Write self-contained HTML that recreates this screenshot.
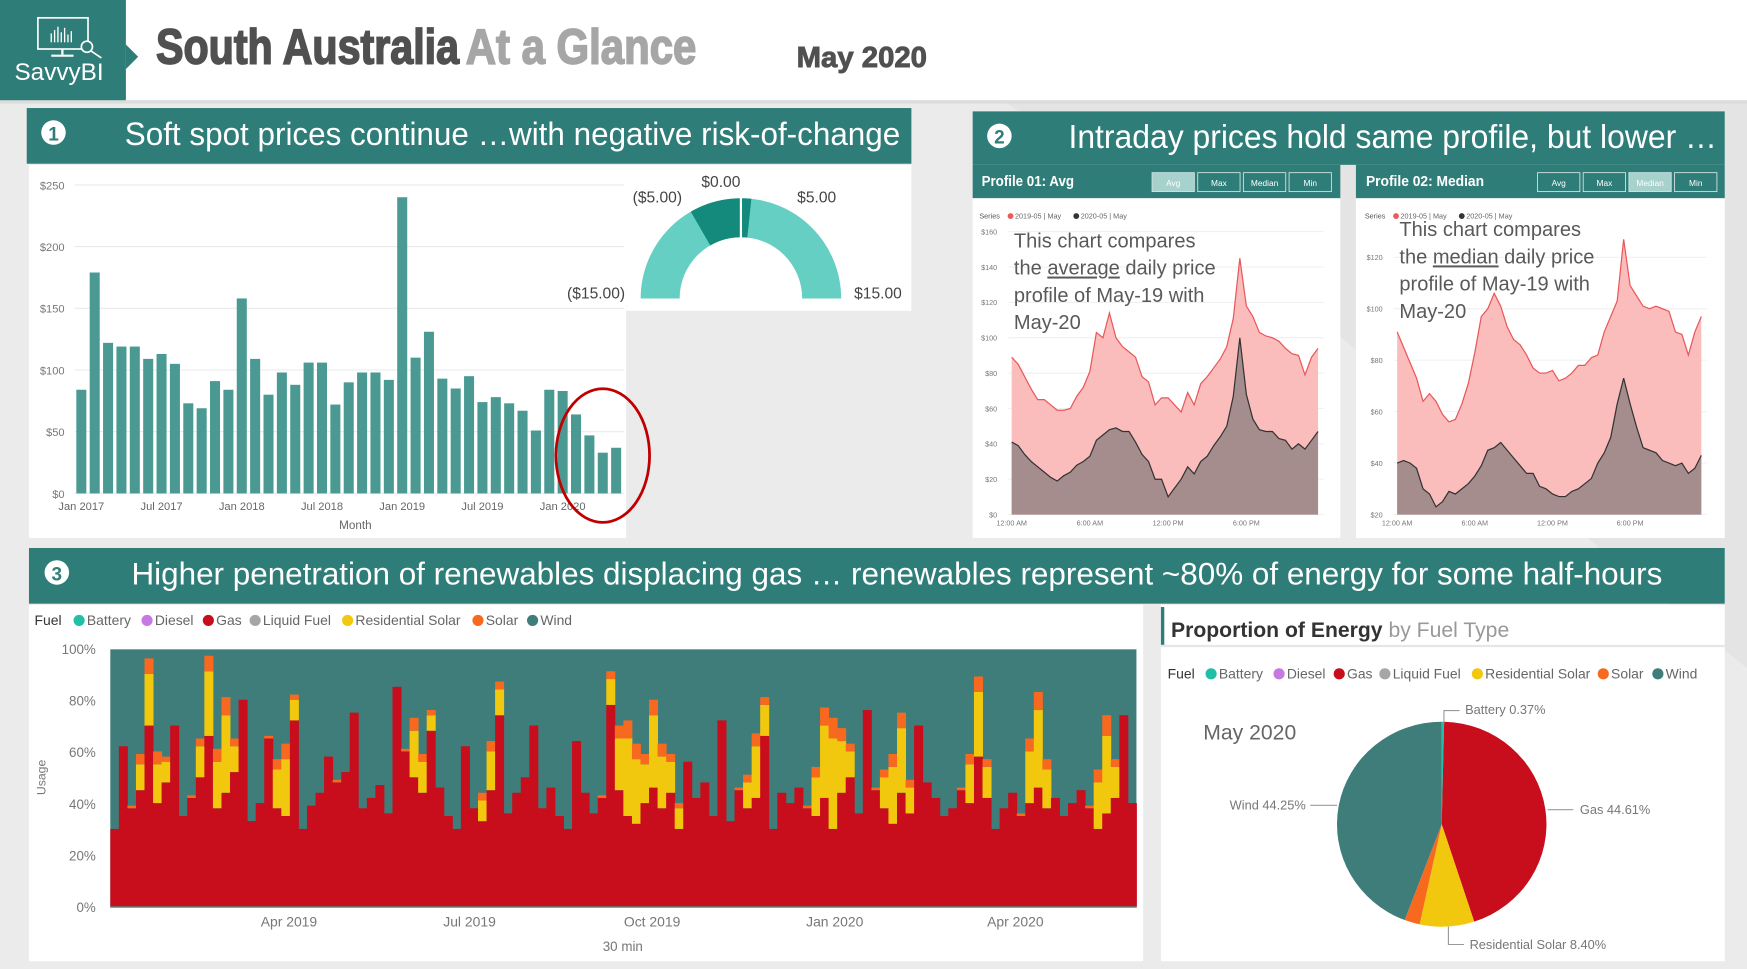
<!DOCTYPE html>
<html><head><meta charset="utf-8">
<style>
html,body{margin:0;padding:0;background:#ececec;overflow:hidden}
svg{display:block}
text{font-family:"Liberation Sans",sans-serif}
</style></head>
<body>
<svg id="root" width="1747" height="969" viewBox="0 0 1568 870" preserveAspectRatio="none">
<rect x="0" y="0" width="1568" height="870" fill="#ebebeb"/>
<polygon points="900,90 1568,90 1568,600 1200,300" fill="#e4e4e4"/>
<rect x="0" y="0" width="1568" height="90" fill="#ffffff"/>
<rect x="0" y="90" width="1568" height="3" fill="#dcdcdc"/>
<g>
<rect x="0" y="0" width="113" height="90" fill="#2f7d78"/>
<polygon points="113,40 124,51 113,62" fill="#2f7d78"/>
<rect x="34" y="16" width="45" height="28" fill="none" stroke="#fff" stroke-width="1.5"/>
<line x1="56" y1="44" x2="56" y2="49" stroke="#fff" stroke-width="2"/>
<line x1="46" y1="50" x2="66" y2="50" stroke="#fff" stroke-width="2"/>
<g stroke="#fff" stroke-width="1.2"><line x1="46" y1="38" x2="46" y2="30"/><line x1="49" y1="38" x2="49" y2="27"/><line x1="52" y1="38" x2="52" y2="24"/><line x1="55" y1="38" x2="55" y2="29"/><line x1="58" y1="38" x2="58" y2="25"/><line x1="61" y1="38" x2="61" y2="31"/><line x1="64" y1="38" x2="64" y2="28"/></g>
<circle cx="78" cy="42" r="5" fill="#2f7d78" stroke="#fff" stroke-width="1.5"/>
<line x1="82" y1="46" x2="91" y2="52" stroke="#fff" stroke-width="1.5"/>
<text x="53" y="72" fill="#fff" font-size="22" text-anchor="middle" textLength="80" lengthAdjust="spacingAndGlyphs">SavvyBI</text>
</g>
<text x="140" y="57" font-size="44" font-weight="bold" fill="#505050" stroke="#505050" stroke-width="1.5" textLength="272" lengthAdjust="spacingAndGlyphs">South Australia</text>
<text x="418" y="57" font-size="44" font-weight="bold" fill="#a6a6a6" stroke="#a6a6a6" stroke-width="1.5" textLength="207" lengthAdjust="spacingAndGlyphs">At a Glance</text>
<text x="715" y="60" font-size="26" font-weight="bold" fill="#505050" stroke="#505050" stroke-width="0.8" textLength="117" lengthAdjust="spacingAndGlyphs">May 2020</text>

<rect x="24" y="97" width="794" height="50" fill="#2f7d78"/>
<circle cx="48" cy="119" r="11" fill="#fff"/>
<text x="48" y="126" font-size="17" font-weight="bold" fill="#2f7d78" text-anchor="middle">1</text>
<text x="112" y="130" font-size="29" fill="#fff" textLength="696" lengthAdjust="spacingAndGlyphs">Soft spot prices continue …with negative risk-of-change</text>
<rect x="26" y="148" width="536" height="335" fill="#fff"/>
<rect x="562" y="148" width="256" height="131" fill="#fff"/>
<g id="barChart"></g>
<g id="gauge"></g>

<rect x="873" y="100" width="675" height="48" fill="#2f7d78"/>
<circle cx="897" cy="122" r="11" fill="#fff"/>
<text x="897" y="129" font-size="17" font-weight="bold" fill="#2f7d78" text-anchor="middle">2</text>
<text x="959" y="133" font-size="30" fill="#fff" textLength="582" lengthAdjust="spacingAndGlyphs">Intraday prices hold same profile, but lower …</text>
<rect x="873" y="148" width="330" height="30" fill="#2f7d78"/>
<rect x="1217" y="148" width="331" height="30" fill="#2f7d78"/>
<rect x="873" y="178" width="330" height="305" fill="#fff"/>
<rect x="1217" y="178" width="331" height="305" fill="#fff"/>
<text x="881" y="167" font-size="13" font-weight="bold" fill="#fff" textLength="83" lengthAdjust="spacingAndGlyphs">Profile 01: Avg</text>
<text x="1226" y="167" font-size="13" font-weight="bold" fill="#fff" textLength="106" lengthAdjust="spacingAndGlyphs">Profile 02: Median</text>
<g id="buttons"></g>
<g id="profile1"></g>
<g id="profile2"></g>

<rect x="26" y="492" width="1522" height="50" fill="#2f7d78"/>
<circle cx="51" cy="514" r="11" fill="#fff"/>
<text x="51" y="521" font-size="17" font-weight="bold" fill="#2f7d78" text-anchor="middle">3</text>
<text x="118" y="525" font-size="28" fill="#fff" textLength="1374" lengthAdjust="spacingAndGlyphs">Higher penetration of renewables displacing gas …   renewables represent ~80% of energy for some half-hours</text>
<rect x="26" y="543" width="1000" height="320" fill="#fff"/>
<rect x="1042" y="543" width="506" height="320" fill="#fff"/>
<g id="stack"></g>
<g id="pie"></g>
</svg>
<script>
const months = ["Jan 2017","Feb 2017","Mar 2017","Apr 2017","May 2017","Jun 2017","Jul 2017","Aug 2017","Sep 2017","Oct 2017","Nov 2017","Dec 2017","Jan 2018","Feb 2018","Mar 2018","Apr 2018","May 2018","Jun 2018","Jul 2018","Aug 2018","Sep 2018","Oct 2018","Nov 2018","Dec 2018","Jan 2019","Feb 2019","Mar 2019","Apr 2019","May 2019","Jun 2019","Jul 2019","Aug 2019","Sep 2019","Oct 2019","Nov 2019","Dec 2019","Jan 2020","Feb 2020","Mar 2020","Apr 2020","May 2020"];
const monthlyPrice = [84,179,122,119,119,109,113,105,73,69,91,84,158,109,80,98,88,106,106,72,90,98,98,92,240,110,131,93,85,95,74,78,73,67,51,84,83,64,47,33,37];
const priceTicks = [0,50,100,150,200,250];
const monthTickLabels = ["Jan 2017","Jul 2017","Jan 2018","Jul 2018","Jan 2019","Jul 2019","Jan 2020"];
const gaugeMin = -15, gaugeMax = 15, gaugeTarget = 0, gaugeValue = -5, gaugeValue2 = 1;
const hourLabels = ["12:00 AM","6:00 AM","12:00 PM","6:00 PM"];
const avg2019 = [89,85,78,71,65,65,62,59,59,60,67,72,81,103,100,114,100,95,92,89,78,75,62,66,66,62,58,69,62,74,78,83,88,95,111,145,118,112,103,101,100,98,94,91,90,79,89,94];
const avg2020 = [41,39,34,30,27,24,21,19,22,24,28,30,33,42,45,48,49,47,47,41,34,30,20,20,10,15,20,27,23,30,33,39,44,50,67,100,68,54,48,47,47,43,42,37,40,37,42,47];
const med2019 = [91,85,79,73,64,67,64,59,56,57,63,71,83,97,100,106,101,93,88,86,82,77,75,75,76,72,73,75,78,78,81,82,91,97,103,127,109,105,101,100,101,100,99,91,90,82,91,97];
const med2020 = [40,41,40,38,30,28,23,25,29,28,30,32,35,39,45,46,48,45,42,39,36,36,31,30,28,27,27,29,30,32,34,40,44,50,63,73,63,54,46,45,44,41,40,39,40,36,38,43];
const avgTicks = [0,20,40,60,80,100,120,140,160];
const medTicks = [20,40,60,80,100,120];
const mixTickLabels = ["Apr 2019","Jul 2019","Oct 2019","Jan 2020","Apr 2020"];
const pctTicks = [0,20,40,60,80,100];
const gasPct = [30,62,38,45,70,40,48,70,35,42,50,66,38,44,52,80,33,40,65,38,35,72,30,39,44,58,48,52,75,38,42,47,36,85,60,50,44,68,46,35,30,62,38,33,45,74,36,44,50,70,38,46,35,30,64,44,36,42,78,45,35,32,40,46,38,44,30,56,42,48,35,72,33,45,38,42,66,30,44,40,46,38,35,42,30,44,50,36,76,45,38,32,44,36,70,48,42,35,38,45,40,58,42,30,38,44,35,40,46,38,42,35,40,45,38,30,36,42,74,40];
const resSolarPct = [0,0,0,10,20,15,8,0,0,0,12,25,18,30,10,0,0,0,0,15,22,8,0,0,0,0,0,0,0,0,0,0,0,0,0,18,12,6,0,0,0,0,0,8,15,10,0,0,0,0,0,0,0,0,0,0,0,0,10,20,30,25,15,28,20,12,8,0,0,0,0,0,0,0,10,20,12,0,0,0,0,0,15,28,35,20,10,0,0,0,12,22,25,10,0,0,0,0,0,0,15,25,12,0,0,0,0,20,30,15,0,0,0,0,0,18,30,12,0,0];
const solarPct = [0,0,1,4,6,5,2,0,0,1,3,6,5,7,3,0,0,0,1,4,6,2,0,0,0,0,1,0,0,0,0,0,0,0,1,5,3,2,0,0,0,0,0,3,4,3,0,0,0,0,0,0,0,0,0,0,0,1,3,5,7,6,4,6,5,3,2,0,0,0,0,0,0,1,3,5,3,0,0,0,0,1,4,7,8,5,3,0,0,1,3,5,6,3,0,0,0,0,0,1,4,6,3,0,0,0,1,5,7,4,0,0,0,0,1,5,8,3,0,0];
const batteryPct = 0.5;
const pieFuels = ["Battery","Gas","Residential Solar","Solar","Wind"];
const pieShares = [0.37,44.61,8.40,2.37,44.25];
const fuelNames = ["Battery","Diesel","Gas","Liquid Fuel","Residential Solar","Solar","Wind"];

const NS = "http://www.w3.org/2000/svg";
const C = {battery:"#1fbfa8",diesel:"#c679e0",gas:"#c80d1c",liquid:"#a6a6a6",res:"#f2c80f",solar:"#f7691f",wind:"#3f7d7a"};
const fuelColors = [C.battery,C.diesel,C.gas,C.liquid,C.res,C.solar,C.wind];
function mk(tag, attrs, parent){const e=document.createElementNS(NS,tag);for(const k in attrs)e.setAttribute(k,attrs[k]);parent.appendChild(e);return e;}
function txt(parent,x,y,s,size,fill,anchor,extra){const t=mk("text",Object.assign({x:x,y:y,"font-size":size,fill:fill,"text-anchor":anchor||"start"},extra||{}),parent);t.textContent=s;return t;}

(function(){
  const g=document.getElementById("barChart");
  const yB=v=>443-v*1.108;
  const xB=i=>73+i*12.0;
  priceTicks.forEach(v=>{
    const l=mk("line",{x1:67,x2:560,y1:yB(v),y2:yB(v),stroke:"#eaeaea","stroke-width":1},g);
    
    
    const t=txt(g,58,yB(v)+4,"$"+v,10,"#777","end");
    
    
  });
  monthlyPrice.forEach((v,i)=>{
    const r=mk("rect",{x:xB(i)-4.5,y:yB(v),width:9,height:443-yB(v),fill:"#4a9a93"},g);
    
    
  });
  monthTickLabels.forEach(m=>{
    const i=months.indexOf(m);
    const t=txt(g,xB(i),458,m,10,"#666","middle");
    
    
  });
  const xt=txt(g,319,475,"Month",10.5,"#666","middle");
  
  
  const el=mk("ellipse",{cx:541,cy:409,rx:42,ry:60,fill:"none",stroke:"#c00000","stroke-width":2.5},g);
  
  
})();

(function(){
  const g=document.getElementById("gauge");
  const cx=665,cy=268,R=90,r=55;
  const ang=v=>Math.PI*(v-gaugeMin)/(gaugeMax-gaugeMin);
  const pt=(v,rad)=>[cx-rad*Math.cos(ang(v)),cy-rad*Math.sin(ang(v))];
  function arc(a,b,fill){
    const p1=pt(a,R),p2=pt(b,R),p3=pt(b,r),p4=pt(a,r);
    return mk("path",{d:`M${p1}A${R},${R} 0 0 1 ${p2}L${p3}A${r},${r} 0 0 0 ${p4}Z`,fill:fill},g);
  }
  const a1=arc(gaugeMin,gaugeMax,"#66cfc4");
  
  
  const a2=arc(gaugeValue,gaugeTarget,"#148a7c");
  
  
  const a3=arc(gaugeTarget,gaugeValue2,"#148a7c");
  
  
  const q1=pt(gaugeTarget,R+1),q2=pt(gaugeTarget,r-1);
  const tl=mk("line",{x1:q1[0],y1:q1[1],x2:q2[0],y2:q2[1],stroke:"#fff","stroke-width":2},g);
  
  
  const labels=[["($5.00)",590,182,"middle"],["$0.00",647,168,"middle"],["$5.00",733,182,"middle"],["($15.00)",535,268,"middle"],["$15.00",788,268,"middle"]];
  labels.forEach(L=>{const t=txt(g,L[1],L[2],L[0],14,"#444",L[3]);
    
    });
})();

(function(){
  const g=document.getElementById("buttons");
  const names=["Avg","Max","Median","Min"];
  [[1034,0],[1380,2]].forEach((p,pi)=>{
    names.forEach((n,i)=>{
      const x=p[0]+i*41;
      const active=i===p[1];
      const r=mk("rect",{x:x,y:155,width:38,height:17,fill:active?"#a6d1cd":"#2f7d78",stroke:"#cfe3e1","stroke-width":0.8},g);
      
      
      const t=txt(g,x+19,167,n,7.5,"#fff","middle");
      
      
    });
  });
})();

function profile(id,x0,x1,yFn,ticks,red,black,word){
  const g=document.getElementById(id);
  const xF=i=>x0+i*(x1-x0)/(red.length-1);
  const base=yFn(ticks[0]);
  ticks.forEach(v=>{
    const l=mk("line",{x1:x0-3,x2:x1+5,y1:yFn(v),y2:yFn(v),stroke:"#eeeeee","stroke-width":0.8},g);
    
    
    const t=txt(g,x0-13,yFn(v)+2.5,"$"+v,6.5,"#777","end");
    
    
  });
  function area(vals,fill,stroke,name){
    const pts=vals.map((v,i)=>xF(i)+","+yFn(v));
    const a=mk("polygon",{points:`${x0},${base} `+pts.join(" ")+` ${x1},${base}`,fill:fill},g);
    
    
    const p=mk("polyline",{points:pts.join(" "),fill:"none",stroke:stroke,"stroke-width":1.1},g);
    
    
  }
  area(red,"#fbbcbc","#e8575a","series-2019");
  area(black,"#a68d8d","#333","series-2020");
  hourLabels.forEach((h,k)=>{
    const t=txt(g,xF(k*12),472,h,6.5,"#777","middle");
    
    
  });
  const lx=x0-29;
  const s=txt(g,lx,196,"Series",6.5,"#555");
  
  
  const d1=mk("circle",{cx:lx+28,cy:194,r:2.6,fill:"#ee5a5a"},g);
  
  
  const l1=txt(g,lx+32,196,"2019-05 | May",6.5,"#666");
  
  
  const d2=mk("circle",{cx:lx+87,cy:194,r:2.6,fill:"#333"},g);
  
  
  const l2=txt(g,lx+91,196,"2020-05 | May",6.5,"#666");
  
  
  const ty=id==="profile1"?222:212;
  const lines=[["This chart compares"],["the ",word," daily price"],["profile of May-19 with"],["May-20"]];
  lines.forEach((ln,k)=>{
    const t=mk("text",{x:x0+2,y:ty+k*24.5,"font-size":18,fill:"#595959"},g);
    
    
    ln.forEach((seg,j)=>{const sp=mk("tspan",j===1?{"text-decoration":"underline"}:{},t);sp.textContent=seg;});
  });
}
profile("profile1",908,1183,v=>462-v*1.5875,avgTicks,avg2019,avg2020,"average");
profile("profile2",1254,1527,v=>462-(v-20)*2.31,medTicks,med2019,med2020,"median");

(function(){
  const g=document.getElementById("stack");
  const x0=99,x1=1020,n=gasPct.length,w=(x1-x0)/n;
  const yS=p=>815-Math.min(p,100)*2.32;
  const bg=mk("rect",{x:x0,y:yS(100),width:x1-x0,height:yS(0)-yS(100),fill:C.wind},g);
  
  
  gasPct.forEach((gv,i)=>{
    const x=x0+i*w;
    let acc=0;
    [[batteryPct,C.battery,"battery"],[gv,C.gas,"gas"],[resSolarPct[i],C.res,"residential-solar"],[solarPct[i],C.solar,"solar"]].forEach(s=>{
      if(s[0]<=0||acc>=100)return;
      const r=mk("rect",{x:x,y:yS(acc+s[0]),width:w+0.4,height:yS(acc)-yS(acc+s[0]),fill:s[1]},g);
      
      
      acc+=s[0];
    });
  });
  pctTicks.forEach(p=>{
    const t=txt(g,86,yS(p)+4,p+"%",12,"#777","end");
    
    
  });
  const daysTotal=517, aprIdx=[90,181,273,365,456];
  mixTickLabels.forEach((m,k)=>{
    const t=txt(g,x0+aprIdx[k]/daysTotal*(x1-x0),832,m,12.5,"#777","middle");
    
    
  });
  const xt=txt(g,559,854,"30 min",12,"#777","middle");
  
  
  const yt=txt(g,0,0,"Usage",11,"#777","middle",{transform:"translate(41,698) rotate(-90)"});
  
  
  legend(g,31,561,[71,132,187,229,312,429,478]);
})();
function legend(g,x,y,pos){
  const f=txt(g,x,y,"Fuel",12.5,"#333");
  
  
  fuelNames.forEach((n,i)=>{
    const c=mk("circle",{cx:pos[i],cy:y-4,r:5,fill:fuelColors[i]},g);
    
    
    const t=txt(g,pos[i]+7,y,n,12.5,"#666");
    
    
  });
}

(function(){
  const g=document.getElementById("pie");
  const bar=mk("rect",{x:1042,y:545,width:3,height:34,fill:"#2f7d78"},g);
  
  
  const sep=mk("line",{x1:1042,x2:1548,y1:580,y2:580,stroke:"#e6e6e6","stroke-width":2},g);
  
  
  const tt=mk("text",{x:1051,y:572,"font-size":19,fill:"#333"},g);
  
  
  const s1=mk("tspan",{"font-weight":"bold"},tt);s1.textContent="Proportion of Energy";
  const s2=mk("tspan",{fill:"#999"},tt);s2.textContent=" by Fuel Type";
  legend(g,1048,609,[1087,1148,1202,1243,1326,1439,1488]);
  const m=txt(g,1080,664,"May 2020",19,"#666");
  
  
  const cx=1294,cy=740,rx=94,ry=92;
  const cols={"Battery":C.battery,"Gas":C.gas,"Residential Solar":C.res,"Solar":C.solar,"Wind":C.wind};
  const total=pieShares.reduce((a,b)=>a+b,0);
  let a=0;
  pieShares.forEach((s,i)=>{
    const a0=a/total*2*Math.PI, a1=(a+s)/total*2*Math.PI; a+=s;
    const p0=[cx+rx*Math.sin(a0),cy-ry*Math.cos(a0)], p1=[cx+rx*Math.sin(a1),cy-ry*Math.cos(a1)];
    const large=(a1-a0)>Math.PI?1:0;
    const p=mk("path",{d:`M${cx},${cy}L${p0}A${rx},${ry} 0 ${large} 1 ${p1}Z`,fill:cols[pieFuels[i]]},g);
    
    
  });
  const lab=[["Battery "+pieShares[0]+"%",1315,641,"start","M1296,648L1296,638L1310,638"],
             ["Gas "+pieShares[1]+"%",1418,731,"start","M1389,727L1412,727"],
             ["Wind "+pieShares[4]+"%",1172,727,"end","M1176,723L1200,723"],
             ["Residential Solar "+pieShares[2].toFixed(2)+"%",1319,852,"start","M1300,832L1300,848L1314,848"]];
  lab.forEach(L=>{
    const ln=mk("path",{d:L[4],fill:"none",stroke:"#999","stroke-width":1},g);
    
    
    const t=txt(g,L[1],L[2],L[0],11.5,"#777",L[3]);
    
    
  });
})();
</script>
</body></html>
